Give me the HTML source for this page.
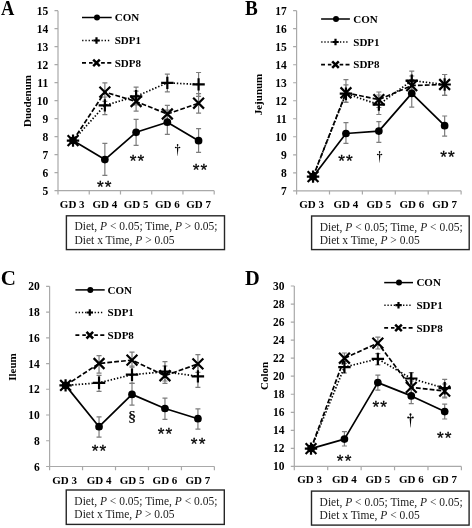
<!DOCTYPE html>
<html><head><meta charset="utf-8"><style>
html,body{margin:0;padding:0;background:#fff;}
svg{display:block;will-change:transform;}
text{font-family:"Liberation Serif",serif;fill:#000;}
.t{font-size:11.0px;font-weight:bold;}
.yt{font-size:11.5px;font-weight:bold;}
.ti{font-size:11.0px;font-weight:bold;}
.lg{font-size:11.0px;font-weight:bold;}
.L{font-size:19.5px;font-weight:bold;}
.bx{font-size:11.5px;fill:#1a1a1a;}
.as{font-size:17.2px;font-family:"Liberation Sans",sans-serif;stroke:#000;stroke-width:0.3px;}
.dg{}
.ss{stroke:#000;stroke-width:0.25px;}
</style></head><body>
<svg width="472" height="528" viewBox="0 0 472 528">
<rect width="472" height="528" fill="#fff"/>
<path d="M58 10.7V190.7H214.2" stroke="#a9a9a9" stroke-width="1.2" fill="none"/>
<path d="M54.5 190.7H58M54.5 172.7H58M54.5 154.7H58M54.5 136.7H58M54.5 118.7H58M54.5 100.7H58M54.5 82.7H58M54.5 64.7H58M54.5 46.7H58M54.5 28.7H58M54.5 10.7H58M58 190.7V194.5M89.24 190.7V194.5M120.48 190.7V194.5M151.72 190.7V194.5M182.96 190.7V194.5M214.2 190.7V194.5" stroke="#a9a9a9" stroke-width="1.2" fill="none"/>
<text x="48.2" y="194.7" class="yt" text-anchor="end">5</text>
<text x="48.2" y="176.7" class="yt" text-anchor="end">6</text>
<text x="48.2" y="158.7" class="yt" text-anchor="end">7</text>
<text x="48.2" y="140.7" class="yt" text-anchor="end">8</text>
<text x="48.2" y="122.7" class="yt" text-anchor="end">9</text>
<text x="48.2" y="104.7" class="yt" text-anchor="end">10</text>
<text x="48.2" y="86.7" class="yt" text-anchor="end">11</text>
<text x="48.2" y="68.7" class="yt" text-anchor="end">12</text>
<text x="48.2" y="50.7" class="yt" text-anchor="end">13</text>
<text x="48.2" y="32.7" class="yt" text-anchor="end">14</text>
<text x="48.2" y="14.7" class="yt" text-anchor="end">15</text>
<text x="72.22" y="207.7" class="t" text-anchor="middle">GD 3</text>
<text x="104.86" y="207.7" class="t" text-anchor="middle">GD 4</text>
<text x="136.1" y="207.7" class="t" text-anchor="middle">GD 5</text>
<text x="167.34" y="207.7" class="t" text-anchor="middle">GD 6</text>
<text x="198.58" y="207.7" class="t" text-anchor="middle">GD 7</text>
<text x="0" y="0" class="L" style="font-size:21px" transform="translate(1.1 14.8) scale(0.88 1)">A</text>
<text x="31.2" y="101" class="ti" text-anchor="middle" transform="rotate(-90 31.2 101)">Duodenum</text>
<path d="M82 17.5H111.7" stroke="#000" stroke-width="1.5" fill="none"/>
<circle cx="97" cy="17.5" r="3" fill="#000"/>
<text x="114.7" y="21.3" class="lg">CON</text>
<path d="M82.15 40.5H83.45M85.37 40.5H86.67M88.59 40.5H89.89M91.81 40.5H93.11M95.03 40.5H96.33M98.25 40.5H99.55M101.47 40.5H102.77M104.69 40.5H105.99M107.91 40.5H109.21" stroke="#000" stroke-width="1.4" fill="none"/>
<path d="M93.3 40.5H99.7M96.5 37.3V43.7" stroke="#000" stroke-width="2.2" fill="none"/>
<text x="114.7" y="44.3" class="lg">SDP1</text>
<path d="M82 62.9H86M89 62.9H92.6M101.1 62.9H104.8M107.2 62.9H111.3" stroke="#000" stroke-width="1.7" fill="none"/>
<path d="M93.2 59.6L99.8 66.2M93.2 66.2L99.8 59.6" stroke="#000" stroke-width="2.5" fill="none"/>
<text x="114.7" y="66.7" class="lg">SDP8</text>
<path d="M104.86 143.3V175.3M102.36 143.3H107.36M102.36 175.3H107.36" stroke="#7c7c7c" stroke-width="1.2" fill="none"/>
<path d="M136.1 119.4V145.3M133.6 119.4H138.6M133.6 145.3H138.6" stroke="#7c7c7c" stroke-width="1.2" fill="none"/>
<path d="M167.34 110.1V134.3M164.84 110.1H169.84M164.84 134.3H169.84" stroke="#7c7c7c" stroke-width="1.2" fill="none"/>
<path d="M198.58 128.6V152.3M196.08 128.6H201.08M196.08 152.3H201.08" stroke="#7c7c7c" stroke-width="1.2" fill="none"/>
<path d="M104.86 97V114.6M102.36 97H107.36M102.36 114.6H107.36" stroke="#7c7c7c" stroke-width="1.2" fill="none"/>
<path d="M136.1 87.2V104.8M133.6 87.2H138.6M133.6 104.8H138.6" stroke="#7c7c7c" stroke-width="1.2" fill="none"/>
<path d="M167.34 74.2V91.8M164.84 74.2H169.84M164.84 91.8H169.84" stroke="#7c7c7c" stroke-width="1.2" fill="none"/>
<path d="M198.58 72.5V96.3M196.08 72.5H201.08M196.08 96.3H201.08" stroke="#7c7c7c" stroke-width="1.2" fill="none"/>
<path d="M104.86 82.9V101.3M102.36 82.9H107.36M102.36 101.3H107.36" stroke="#7c7c7c" stroke-width="1.2" fill="none"/>
<path d="M136.1 91.1V111.2M133.6 91.1H138.6M133.6 111.2H138.6" stroke="#7c7c7c" stroke-width="1.2" fill="none"/>
<path d="M167.34 105.3V122.7M164.84 105.3H169.84M164.84 122.7H169.84" stroke="#7c7c7c" stroke-width="1.2" fill="none"/>
<path d="M198.58 93.7V113.1M196.08 93.7H201.08M196.08 113.1H201.08" stroke="#7c7c7c" stroke-width="1.2" fill="none"/>
<polyline points="73.02,140.6 104.86,92.1 136.1,101.5 167.34,114 198.58,103.2" stroke="#000" stroke-width="1.7" stroke-dasharray="4.8 2.1" fill="none" stroke-linejoin="round"/>
<polyline points="73.02,140.6 104.86,105.4 136.1,96.3 167.34,82.9 198.58,84.4" stroke="#000" stroke-width="1.7" stroke-dasharray="1.4 1.85" fill="none" stroke-linejoin="round"/>
<polyline points="73.02,140.6 104.86,159.6 136.1,132.3 167.34,122.2 198.58,140.7" stroke="#000" stroke-width="1.7" fill="none" stroke-linejoin="round"/>
<circle cx="73.02" cy="140.6" r="3.85" fill="#000"/>
<circle cx="104.86" cy="159.6" r="3.85" fill="#000"/>
<circle cx="136.1" cy="132.3" r="3.85" fill="#000"/>
<circle cx="167.34" cy="122.2" r="3.85" fill="#000"/>
<circle cx="198.58" cy="140.7" r="3.85" fill="#000"/>
<path d="M66.82 140.6H79.22M73.02 134.4V146.8" stroke="#000" stroke-width="2.2" fill="none"/>
<path d="M98.66 105.4H111.06M104.86 99.2V111.6" stroke="#000" stroke-width="2.2" fill="none"/>
<path d="M129.9 96.3H142.3M136.1 90.1V102.5" stroke="#000" stroke-width="2.2" fill="none"/>
<path d="M161.14 82.9H173.54M167.34 76.7V89.1" stroke="#000" stroke-width="2.2" fill="none"/>
<path d="M192.38 84.4H204.78M198.58 78.2V90.6" stroke="#000" stroke-width="2.2" fill="none"/>
<path d="M67.62 135.2L78.42 146M67.62 146L78.42 135.2" stroke="#000" stroke-width="2.2" fill="none"/>
<path d="M99.46 86.7L110.26 97.5M99.46 97.5L110.26 86.7" stroke="#000" stroke-width="2.2" fill="none"/>
<path d="M130.7 96.1L141.5 106.9M130.7 106.9L141.5 96.1" stroke="#000" stroke-width="2.2" fill="none"/>
<path d="M161.94 108.6L172.74 119.4M161.94 119.4L172.74 108.6" stroke="#000" stroke-width="2.2" fill="none"/>
<path d="M193.18 97.8L203.98 108.6M193.18 108.6L203.98 97.8" stroke="#000" stroke-width="2.2" fill="none"/>
<text x="96.98" y="192.9" class="as" letter-spacing="1.15">**</text>
<text x="129.63" y="167.2" class="as" letter-spacing="1.15">**</text>
<g fill="#000"><ellipse cx="177.6" cy="145.08" rx="0.8" ry="1"/><rect x="177.3" y="145.08" width="0.6" height="2.61"/><ellipse cx="175.7" cy="147.58" rx="0.85" ry="0.75"/><ellipse cx="179.5" cy="147.58" rx="0.85" ry="0.75"/><rect x="175.7" y="147.28" width="3.81" height="0.6"/><path d="M176.85 147.98Q177.1 151.09 177.52 155.9L177.68 155.9Q178.1 151.09 178.35 147.98Z"/></g>
<text x="192.68" y="175.7" class="as" letter-spacing="1.15">**</text>
<rect x="66.4" y="215.8" width="158.1" height="33.8" fill="none" stroke="#262626" stroke-width="1.4"/>
<text x="74.5" y="230.4" class="bx">Diet, <tspan font-style="italic">P</tspan> &lt; 0.05; Time, <tspan font-style="italic">P</tspan> &gt; 0.05;</text>
<text x="74.5" y="243.6" class="bx">Diet x Time, <tspan font-style="italic">P</tspan> &gt; 0.05</text>
<path d="M296.6 10.7V190.8H461.1" stroke="#a9a9a9" stroke-width="1.2" fill="none"/>
<path d="M293.1 190.8H296.6M293.1 172.79H296.6M293.1 154.78H296.6M293.1 136.77H296.6M293.1 118.76H296.6M293.1 100.75H296.6M293.1 82.74H296.6M293.1 64.73H296.6M293.1 46.72H296.6M293.1 28.71H296.6M293.1 10.7H296.6M296.6 190.8V194.6M329.5 190.8V194.6M362.4 190.8V194.6M395.3 190.8V194.6M428.2 190.8V194.6M461.1 190.8V194.6" stroke="#a9a9a9" stroke-width="1.2" fill="none"/>
<text x="286.8" y="194.8" class="yt" text-anchor="end">7</text>
<text x="286.8" y="176.79" class="yt" text-anchor="end">8</text>
<text x="286.8" y="158.78" class="yt" text-anchor="end">9</text>
<text x="286.8" y="140.77" class="yt" text-anchor="end">10</text>
<text x="286.8" y="122.76" class="yt" text-anchor="end">11</text>
<text x="286.8" y="104.75" class="yt" text-anchor="end">12</text>
<text x="286.8" y="86.74" class="yt" text-anchor="end">13</text>
<text x="286.8" y="68.73" class="yt" text-anchor="end">14</text>
<text x="286.8" y="50.72" class="yt" text-anchor="end">15</text>
<text x="286.8" y="32.71" class="yt" text-anchor="end">16</text>
<text x="286.8" y="14.7" class="yt" text-anchor="end">17</text>
<text x="311.65" y="207.8" class="t" text-anchor="middle">GD 3</text>
<text x="345.95" y="207.8" class="t" text-anchor="middle">GD 4</text>
<text x="378.85" y="207.8" class="t" text-anchor="middle">GD 5</text>
<text x="411.75" y="207.8" class="t" text-anchor="middle">GD 6</text>
<text x="444.65" y="207.8" class="t" text-anchor="middle">GD 7</text>
<text x="0" y="0" class="L" style="font-size:20.4px" transform="translate(245.1 14.5) scale(0.94 1)">B</text>
<text x="262.3" y="94.5" class="ti" text-anchor="middle" transform="rotate(-90 262.3 94.5)">Jejunum</text>
<path d="M321.1 19H349.9" stroke="#000" stroke-width="1.5" fill="none"/>
<circle cx="336" cy="19" r="3" fill="#000"/>
<text x="353.3" y="22.8" class="lg">CON</text>
<path d="M321.25 42H322.51M324.37 42H325.63M327.49 42H328.75M330.61 42H331.87M333.74 42H335M336.86 42H338.12M339.98 42H341.24M343.1 42H344.36M346.22 42H347.49" stroke="#000" stroke-width="1.4" fill="none"/>
<path d="M332.3 42H338.7M335.5 38.8V45.2" stroke="#000" stroke-width="2.2" fill="none"/>
<text x="353.3" y="45.8" class="lg">SDP1</text>
<path d="M321.1 64.6H324.98M327.89 64.6H331.38M339.62 64.6H343.21M345.54 64.6H349.51" stroke="#000" stroke-width="1.7" fill="none"/>
<path d="M332.2 61.3L338.8 67.9M332.2 67.9L338.8 61.3" stroke="#000" stroke-width="2.5" fill="none"/>
<text x="353.3" y="68.4" class="lg">SDP8</text>
<path d="M345.95 122.6V143.4M343.45 122.6H348.45M343.45 143.4H348.45" stroke="#7c7c7c" stroke-width="1.2" fill="none"/>
<path d="M378.85 121.6V142.3M376.35 121.6H381.35M376.35 142.3H381.35" stroke="#7c7c7c" stroke-width="1.2" fill="none"/>
<path d="M411.75 79.6V107.2M409.25 79.6H414.25M409.25 107.2H414.25" stroke="#7c7c7c" stroke-width="1.2" fill="none"/>
<path d="M444.65 116V136.2M442.15 116H447.15M442.15 136.2H447.15" stroke="#7c7c7c" stroke-width="1.2" fill="none"/>
<path d="M345.95 79.6V102.5M343.45 79.6H348.45M343.45 102.5H348.45" stroke="#7c7c7c" stroke-width="1.2" fill="none"/>
<path d="M378.85 95V114.5M376.35 95H381.35M376.35 114.5H381.35" stroke="#7c7c7c" stroke-width="1.2" fill="none"/>
<path d="M411.75 71.1V90M409.25 71.1H414.25M409.25 90H414.25" stroke="#7c7c7c" stroke-width="1.2" fill="none"/>
<path d="M444.65 74.5V95.3M442.15 74.5H447.15M442.15 95.3H447.15" stroke="#7c7c7c" stroke-width="1.2" fill="none"/>
<path d="M345.95 84.8V102M343.45 84.8H348.45M343.45 102H348.45" stroke="#7c7c7c" stroke-width="1.2" fill="none"/>
<path d="M378.85 92V107.5M376.35 92H381.35M376.35 107.5H381.35" stroke="#7c7c7c" stroke-width="1.2" fill="none"/>
<path d="M411.75 76V95M409.25 76H414.25M409.25 95H414.25" stroke="#7c7c7c" stroke-width="1.2" fill="none"/>
<path d="M444.65 74.5V95.3M442.15 74.5H447.15M442.15 95.3H447.15" stroke="#7c7c7c" stroke-width="1.2" fill="none"/>
<polyline points="313.05,176.65 345.95,92.8 378.85,99.6 411.75,85.6 444.65,84.5" stroke="#000" stroke-width="1.7" stroke-dasharray="4.8 2.1" fill="none" stroke-linejoin="round"/>
<polyline points="313.05,176.65 345.95,93.7 378.85,104.6 411.75,80.6 444.65,84.5" stroke="#000" stroke-width="1.7" stroke-dasharray="1.4 1.85" fill="none" stroke-linejoin="round"/>
<polyline points="313.05,176.65 345.95,133.5 378.85,131.1 411.75,93.4 444.65,125.7" stroke="#000" stroke-width="1.7" fill="none" stroke-linejoin="round"/>
<circle cx="313.05" cy="176.65" r="3.85" fill="#000"/>
<circle cx="345.95" cy="133.5" r="3.85" fill="#000"/>
<circle cx="378.85" cy="131.1" r="3.85" fill="#000"/>
<circle cx="411.75" cy="93.4" r="3.85" fill="#000"/>
<circle cx="444.65" cy="125.7" r="3.85" fill="#000"/>
<path d="M306.85 176.65H319.25M313.05 170.45V182.85" stroke="#000" stroke-width="2.2" fill="none"/>
<path d="M339.75 93.7H352.15M345.95 87.5V99.9" stroke="#000" stroke-width="2.2" fill="none"/>
<path d="M372.65 104.6H385.05M378.85 98.4V110.8" stroke="#000" stroke-width="2.2" fill="none"/>
<path d="M405.55 80.6H417.95M411.75 74.4V86.8" stroke="#000" stroke-width="2.2" fill="none"/>
<path d="M438.45 84.5H450.85M444.65 78.3V90.7" stroke="#000" stroke-width="2.2" fill="none"/>
<path d="M307.65 171.25L318.45 182.05M307.65 182.05L318.45 171.25" stroke="#000" stroke-width="2.2" fill="none"/>
<path d="M340.55 87.4L351.35 98.2M340.55 98.2L351.35 87.4" stroke="#000" stroke-width="2.2" fill="none"/>
<path d="M373.45 94.2L384.25 105M373.45 105L384.25 94.2" stroke="#000" stroke-width="2.2" fill="none"/>
<path d="M406.35 80.2L417.15 91M406.35 91L417.15 80.2" stroke="#000" stroke-width="2.2" fill="none"/>
<path d="M439.25 79.1L450.05 89.9M439.25 89.9L450.05 79.1" stroke="#000" stroke-width="2.2" fill="none"/>
<text x="338.18" y="166.5" class="as" letter-spacing="1.15">**</text>
<g fill="#000"><ellipse cx="379.6" cy="152.1" rx="0.79" ry="0.98"/><rect x="379.31" y="152.1" width="0.59" height="2.55"/><ellipse cx="377.73" cy="154.55" rx="0.83" ry="0.74"/><ellipse cx="381.47" cy="154.55" rx="0.83" ry="0.74"/><rect x="377.73" y="154.26" width="3.73" height="0.59"/><path d="M378.86 154.95Q379.11 157.99 379.52 162.7L379.68 162.7Q380.09 157.99 380.34 154.95Z"/></g>
<text x="440.13" y="163.2" class="as" letter-spacing="1.15">**</text>
<rect x="311.6" y="216" width="157.6" height="33.6" fill="none" stroke="#262626" stroke-width="1.4"/>
<text x="319.7" y="230.6" class="bx">Diet, <tspan font-style="italic">P</tspan> &lt; 0.05; Time, <tspan font-style="italic">P</tspan> &lt; 0.05;</text>
<text x="319.7" y="243.8" class="bx">Diet x Time, <tspan font-style="italic">P</tspan> &gt; 0.05</text>
<path d="M49.6 286.3V466.5H214.4" stroke="#a9a9a9" stroke-width="1.2" fill="none"/>
<path d="M46.1 466.5H49.6M46.1 440.76H49.6M46.1 415.01H49.6M46.1 389.27H49.6M46.1 363.53H49.6M46.1 337.79H49.6M46.1 312.04H49.6M46.1 286.3H49.6M49.6 466.5V470.3M82.56 466.5V470.3M115.52 466.5V470.3M148.48 466.5V470.3M181.44 466.5V470.3M214.4 466.5V470.3" stroke="#a9a9a9" stroke-width="1.2" fill="none"/>
<text x="39.8" y="470.5" class="yt" text-anchor="end">6</text>
<text x="39.8" y="444.76" class="yt" text-anchor="end">8</text>
<text x="39.8" y="419.01" class="yt" text-anchor="end">10</text>
<text x="39.8" y="393.27" class="yt" text-anchor="end">12</text>
<text x="39.8" y="367.53" class="yt" text-anchor="end">14</text>
<text x="39.8" y="341.79" class="yt" text-anchor="end">16</text>
<text x="39.8" y="316.04" class="yt" text-anchor="end">18</text>
<text x="39.8" y="290.3" class="yt" text-anchor="end">20</text>
<text x="64.68" y="483.5" class="t" text-anchor="middle">GD 3</text>
<text x="99.04" y="483.5" class="t" text-anchor="middle">GD 4</text>
<text x="132" y="483.5" class="t" text-anchor="middle">GD 5</text>
<text x="164.96" y="483.5" class="t" text-anchor="middle">GD 6</text>
<text x="197.92" y="483.5" class="t" text-anchor="middle">GD 7</text>
<text x="0.8" y="285.1" class="L" style="font-size:21px">C</text>
<text x="15.5" y="367" class="ti" text-anchor="middle" transform="rotate(-90 15.5 367)">Ileum</text>
<path d="M75.4 289.9H104.7" stroke="#000" stroke-width="1.5" fill="none"/>
<circle cx="90.3" cy="289.9" r="3" fill="#000"/>
<text x="107.6" y="293.7" class="lg">CON</text>
<path d="M75.55 312.5H76.83M78.72 312.5H80.01M81.9 312.5H83.18M85.08 312.5H86.36M88.25 312.5H89.54M91.43 312.5H92.71M94.61 312.5H95.89M97.78 312.5H99.07M100.96 312.5H102.24" stroke="#000" stroke-width="1.4" fill="none"/>
<path d="M86.6 312.5H93M89.8 309.3V315.7" stroke="#000" stroke-width="2.2" fill="none"/>
<text x="107.6" y="316.3" class="lg">SDP1</text>
<path d="M75.4 335.2H79.35M82.31 335.2H85.86M94.24 335.2H97.89M100.26 335.2H104.31" stroke="#000" stroke-width="1.7" fill="none"/>
<path d="M86.5 331.9L93.1 338.5M86.5 338.5L93.1 331.9" stroke="#000" stroke-width="2.5" fill="none"/>
<text x="107.6" y="339" class="lg">SDP8</text>
<path d="M99.04 416.9V437.1M96.54 416.9H101.54M96.54 437.1H101.54" stroke="#7c7c7c" stroke-width="1.2" fill="none"/>
<path d="M132 383.3V405.1M129.5 383.3H134.5M129.5 405.1H134.5" stroke="#7c7c7c" stroke-width="1.2" fill="none"/>
<path d="M164.96 398.1V419.3M162.46 398.1H167.46M162.46 419.3H167.46" stroke="#7c7c7c" stroke-width="1.2" fill="none"/>
<path d="M197.92 408.9V429.1M195.42 408.9H200.42M195.42 429.1H200.42" stroke="#7c7c7c" stroke-width="1.2" fill="none"/>
<path d="M99.04 375.4V391.3M96.54 375.4H101.54M96.54 391.3H101.54" stroke="#7c7c7c" stroke-width="1.2" fill="none"/>
<path d="M132 366V383.3M129.5 366H134.5M129.5 383.3H134.5" stroke="#7c7c7c" stroke-width="1.2" fill="none"/>
<path d="M164.96 361.6V381M162.46 361.6H167.46M162.46 381H167.46" stroke="#7c7c7c" stroke-width="1.2" fill="none"/>
<path d="M197.92 365.5V387.3M195.42 365.5H200.42M195.42 387.3H200.42" stroke="#7c7c7c" stroke-width="1.2" fill="none"/>
<path d="M99.04 355.7V373.2M96.54 355.7H101.54M96.54 373.2H101.54" stroke="#7c7c7c" stroke-width="1.2" fill="none"/>
<path d="M132 352.1V367.2M129.5 352.1H134.5M129.5 367.2H134.5" stroke="#7c7c7c" stroke-width="1.2" fill="none"/>
<path d="M164.96 366V383.3M162.46 366H167.46M162.46 383.3H167.46" stroke="#7c7c7c" stroke-width="1.2" fill="none"/>
<path d="M197.92 354.6V372.4M195.42 354.6H200.42M195.42 372.4H200.42" stroke="#7c7c7c" stroke-width="1.2" fill="none"/>
<polyline points="65.58,385.4 99.04,363.5 132,360.1 164.96,375.7 197.92,363.9" stroke="#000" stroke-width="1.7" stroke-dasharray="4.8 2.1" fill="none" stroke-linejoin="round"/>
<polyline points="65.58,385.4 99.04,382.8 132,374.7 164.96,371.7 197.92,376.4" stroke="#000" stroke-width="1.7" stroke-dasharray="1.4 1.85" fill="none" stroke-linejoin="round"/>
<polyline points="65.58,385.4 99.04,426.7 132,394.4 164.96,408.5 197.92,418.7" stroke="#000" stroke-width="1.7" fill="none" stroke-linejoin="round"/>
<circle cx="65.58" cy="385.4" r="3.85" fill="#000"/>
<circle cx="99.04" cy="426.7" r="3.85" fill="#000"/>
<circle cx="132" cy="394.4" r="3.85" fill="#000"/>
<circle cx="164.96" cy="408.5" r="3.85" fill="#000"/>
<circle cx="197.92" cy="418.7" r="3.85" fill="#000"/>
<path d="M59.38 385.4H71.78M65.58 379.2V391.6" stroke="#000" stroke-width="2.2" fill="none"/>
<path d="M92.84 382.8H105.24M99.04 376.6V389" stroke="#000" stroke-width="2.2" fill="none"/>
<path d="M125.8 374.7H138.2M132 368.5V380.9" stroke="#000" stroke-width="2.2" fill="none"/>
<path d="M158.76 371.7H171.16M164.96 365.5V377.9" stroke="#000" stroke-width="2.2" fill="none"/>
<path d="M191.72 376.4H204.12M197.92 370.2V382.6" stroke="#000" stroke-width="2.2" fill="none"/>
<path d="M60.18 380L70.98 390.8M60.18 390.8L70.98 380" stroke="#000" stroke-width="2.2" fill="none"/>
<path d="M93.64 358.1L104.44 368.9M93.64 368.9L104.44 358.1" stroke="#000" stroke-width="2.2" fill="none"/>
<path d="M126.6 354.7L137.4 365.5M126.6 365.5L137.4 354.7" stroke="#000" stroke-width="2.2" fill="none"/>
<path d="M159.56 370.3L170.36 381.1M159.56 381.1L170.36 370.3" stroke="#000" stroke-width="2.2" fill="none"/>
<path d="M192.52 358.5L203.32 369.3M192.52 369.3L203.32 358.5" stroke="#000" stroke-width="2.2" fill="none"/>
<text x="91.73" y="457.2" class="as" letter-spacing="1.15">**</text>
<text x="0" y="0" class="ss" font-size="14.7" text-anchor="middle" transform="translate(132.2 421.36) scale(1.12 0.98)">§</text>
<text x="157.78" y="439.5" class="as" letter-spacing="1.15">**</text>
<text x="190.83" y="449.5" class="as" letter-spacing="1.15">**</text>
<rect x="66.25" y="490" width="158.05" height="34.4" fill="none" stroke="#262626" stroke-width="1.4"/>
<text x="74.35" y="504.6" class="bx">Diet, <tspan font-style="italic">P</tspan> &lt; 0.05; Time, <tspan font-style="italic">P</tspan> &lt; 0.05;</text>
<text x="74.35" y="517.8" class="bx">Diet x Time, <tspan font-style="italic">P</tspan> &gt; 0.05</text>
<path d="M294.3 286V466.4H461.4" stroke="#a9a9a9" stroke-width="1.2" fill="none"/>
<path d="M290.8 466.4H294.3M290.8 448.36H294.3M290.8 430.32H294.3M290.8 412.28H294.3M290.8 394.24H294.3M290.8 376.2H294.3M290.8 358.16H294.3M290.8 340.12H294.3M290.8 322.08H294.3M290.8 304.04H294.3M290.8 286H294.3M294.3 466.4V470.2M327.72 466.4V470.2M361.14 466.4V470.2M394.56 466.4V470.2M427.98 466.4V470.2M461.4 466.4V470.2" stroke="#a9a9a9" stroke-width="1.2" fill="none"/>
<text x="284.5" y="470.4" class="yt" text-anchor="end">10</text>
<text x="284.5" y="452.36" class="yt" text-anchor="end">12</text>
<text x="284.5" y="434.32" class="yt" text-anchor="end">14</text>
<text x="284.5" y="416.28" class="yt" text-anchor="end">16</text>
<text x="284.5" y="398.24" class="yt" text-anchor="end">18</text>
<text x="284.5" y="380.2" class="yt" text-anchor="end">20</text>
<text x="284.5" y="362.16" class="yt" text-anchor="end">22</text>
<text x="284.5" y="344.12" class="yt" text-anchor="end">24</text>
<text x="284.5" y="326.08" class="yt" text-anchor="end">26</text>
<text x="284.5" y="308.04" class="yt" text-anchor="end">28</text>
<text x="284.5" y="290" class="yt" text-anchor="end">30</text>
<text x="309.61" y="483.4" class="t" text-anchor="middle">GD 3</text>
<text x="344.43" y="483.4" class="t" text-anchor="middle">GD 4</text>
<text x="377.85" y="483.4" class="t" text-anchor="middle">GD 5</text>
<text x="411.27" y="483.4" class="t" text-anchor="middle">GD 6</text>
<text x="444.69" y="483.4" class="t" text-anchor="middle">GD 7</text>
<text x="245.0" y="285.0" class="L" style="font-size:20.4px">D</text>
<text x="268.3" y="376" class="ti" text-anchor="middle" transform="rotate(-90 268.3 376)">Colon</text>
<path d="M384.2 282.6H413" stroke="#000" stroke-width="1.5" fill="none"/>
<circle cx="399" cy="282.6" r="3" fill="#000"/>
<text x="416.4" y="286.4" class="lg">CON</text>
<path d="M384.35 305.2H385.61M387.47 305.2H388.73M390.59 305.2H391.85M393.71 305.2H394.97M396.84 305.2H398.1M399.96 305.2H401.22M403.08 305.2H404.34M406.2 305.2H407.46M409.32 305.2H410.59" stroke="#000" stroke-width="1.4" fill="none"/>
<path d="M395.3 305.2H401.7M398.5 302V308.4" stroke="#000" stroke-width="2.2" fill="none"/>
<text x="416.4" y="309" class="lg">SDP1</text>
<path d="M384.2 327.9H388.08M390.99 327.9H394.48M402.72 327.9H406.31M408.64 327.9H412.61" stroke="#000" stroke-width="1.7" fill="none"/>
<path d="M395.2 324.6L401.8 331.2M395.2 331.2L401.8 324.6" stroke="#000" stroke-width="2.5" fill="none"/>
<text x="416.4" y="331.7" class="lg">SDP8</text>
<path d="M344.43 431.6V446M341.93 431.6H346.93M341.93 446H346.93" stroke="#7c7c7c" stroke-width="1.2" fill="none"/>
<path d="M377.85 375.2V390.1M375.35 375.2H380.35M375.35 390.1H380.35" stroke="#7c7c7c" stroke-width="1.2" fill="none"/>
<path d="M411.27 388V403.7M408.77 388H413.77M408.77 403.7H413.77" stroke="#7c7c7c" stroke-width="1.2" fill="none"/>
<path d="M444.69 404.2V419M442.19 404.2H447.19M442.19 419H447.19" stroke="#7c7c7c" stroke-width="1.2" fill="none"/>
<path d="M344.43 361V373M341.93 361H346.93M341.93 373H346.93" stroke="#7c7c7c" stroke-width="1.2" fill="none"/>
<path d="M377.85 353.7V364.9M375.35 353.7H380.35M375.35 364.9H380.35" stroke="#7c7c7c" stroke-width="1.2" fill="none"/>
<path d="M411.27 372.6V384.4M408.77 372.6H413.77M408.77 384.4H413.77" stroke="#7c7c7c" stroke-width="1.2" fill="none"/>
<path d="M444.69 379.3V397M442.19 379.3H447.19M442.19 397H447.19" stroke="#7c7c7c" stroke-width="1.2" fill="none"/>
<path d="M344.43 353V363.4M341.93 353H346.93M341.93 363.4H346.93" stroke="#7c7c7c" stroke-width="1.2" fill="none"/>
<path d="M377.85 337.1V349M375.35 337.1H380.35M375.35 349H380.35" stroke="#7c7c7c" stroke-width="1.2" fill="none"/>
<path d="M411.27 381V393.8M408.77 381H413.77M408.77 393.8H413.77" stroke="#7c7c7c" stroke-width="1.2" fill="none"/>
<path d="M444.69 384V397.8M442.19 384H447.19M442.19 397.8H447.19" stroke="#7c7c7c" stroke-width="1.2" fill="none"/>
<polyline points="311.01,448.6 344.43,358.2 377.85,343.1 411.27,387.4 444.69,391.1" stroke="#000" stroke-width="1.7" stroke-dasharray="4.8 2.1" fill="none" stroke-linejoin="round"/>
<polyline points="311.01,448.6 344.43,367.1 377.85,358.9 411.27,378.5 444.69,388.2" stroke="#000" stroke-width="1.7" stroke-dasharray="1.4 1.85" fill="none" stroke-linejoin="round"/>
<polyline points="311.01,448.6 344.43,439.1 377.85,382.6 411.27,395.9 444.69,411.6" stroke="#000" stroke-width="1.7" fill="none" stroke-linejoin="round"/>
<circle cx="311.01" cy="448.6" r="3.85" fill="#000"/>
<circle cx="344.43" cy="439.1" r="3.85" fill="#000"/>
<circle cx="377.85" cy="382.6" r="3.85" fill="#000"/>
<circle cx="411.27" cy="395.9" r="3.85" fill="#000"/>
<circle cx="444.69" cy="411.6" r="3.85" fill="#000"/>
<path d="M304.81 448.6H317.21M311.01 442.4V454.8" stroke="#000" stroke-width="2.2" fill="none"/>
<path d="M338.23 367.1H350.63M344.43 360.9V373.3" stroke="#000" stroke-width="2.2" fill="none"/>
<path d="M371.65 358.9H384.05M377.85 352.7V365.1" stroke="#000" stroke-width="2.2" fill="none"/>
<path d="M405.07 378.5H417.47M411.27 372.3V384.7" stroke="#000" stroke-width="2.2" fill="none"/>
<path d="M438.49 388.2H450.89M444.69 382V394.4" stroke="#000" stroke-width="2.2" fill="none"/>
<path d="M305.61 443.2L316.41 454M305.61 454L316.41 443.2" stroke="#000" stroke-width="2.2" fill="none"/>
<path d="M339.03 352.8L349.83 363.6M339.03 363.6L349.83 352.8" stroke="#000" stroke-width="2.2" fill="none"/>
<path d="M372.45 337.7L383.25 348.5M372.45 348.5L383.25 337.7" stroke="#000" stroke-width="2.2" fill="none"/>
<path d="M405.87 382L416.67 392.8M405.87 392.8L416.67 382" stroke="#000" stroke-width="2.2" fill="none"/>
<path d="M439.29 385.7L450.09 396.5M439.29 396.5L450.09 385.7" stroke="#000" stroke-width="2.2" fill="none"/>
<text x="336.83" y="467.2" class="as" letter-spacing="1.15">**</text>
<text x="372.43" y="413.2" class="as" letter-spacing="1.15">**</text>
<g fill="#000"><ellipse cx="410.5" cy="414.5" rx="0.96" ry="1.19"/><rect x="410.14" y="414.5" width="0.72" height="3.11"/><ellipse cx="408.23" cy="417.49" rx="1.02" ry="0.9"/><ellipse cx="412.77" cy="417.49" rx="1.02" ry="0.9"/><rect x="408.23" y="417.13" width="4.54" height="0.72"/><path d="M409.6 417.96Q409.9 421.67 410.4 427.4L410.6 427.4Q411.1 421.67 411.4 417.96Z"/></g>
<text x="437.03" y="444.2" class="as" letter-spacing="1.15">**</text>
<rect x="311.5" y="491.1" width="157.6" height="34" fill="none" stroke="#262626" stroke-width="1.4"/>
<text x="319.6" y="505.7" class="bx">Diet, <tspan font-style="italic">P</tspan> &lt; 0.05; Time, <tspan font-style="italic">P</tspan> &lt; 0.05;</text>
<text x="319.6" y="518.9" class="bx">Diet x Time, <tspan font-style="italic">P</tspan> &lt; 0.05</text>
</svg>
</body></html>
